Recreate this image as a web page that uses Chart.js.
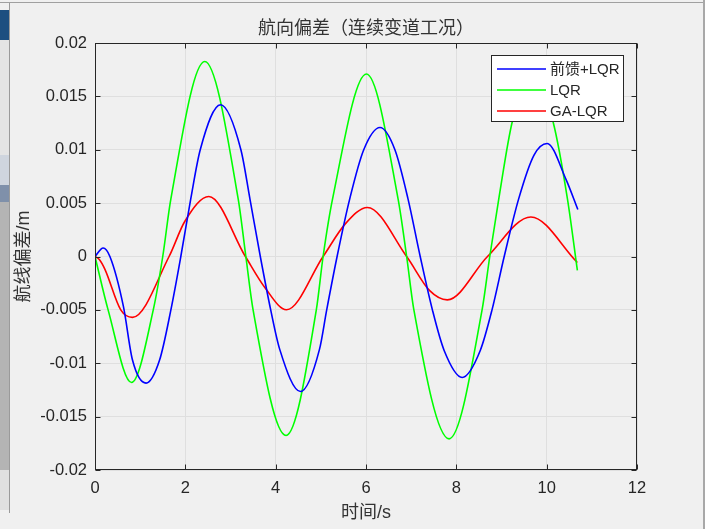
<!DOCTYPE html>
<html>
<head>
<meta charset="utf-8">
<script src="https://cdn.jsdelivr.net/npm/chart.js@4.4.1/dist/chart.umd.min.js"></script>
<style>
  html, body { margin:0; padding:0; background:#f0f0f0; width:705px; height:529px; overflow:hidden; }
  #wrap { position:absolute; left:0; top:0; width:705px; height:529px; }
  canvas { position:absolute; left:0; top:0; }
  .deco { position:absolute; }
</style>
</head>
<body>
<div id="wrap">
  <canvas id="c" width="705" height="529"></canvas>
  <div class="deco" style="left:0;top:2px;width:705px;height:1px;background:#a0a0a0"></div>
  <div class="deco" style="left:703px;top:0;width:2px;height:529px;background:#a8a8a8"></div>
  <div class="deco" style="left:0;top:10px;width:9px;height:30px;background:#1d4f80"></div>
  <div class="deco" style="left:0;top:40px;width:9px;height:115px;background:#e4e4e4"></div>
  <div class="deco" style="left:0;top:155px;width:9px;height:30px;background:#cfd5de"></div>
  <div class="deco" style="left:0;top:185px;width:9px;height:17px;background:#7f90aa"></div>
  <div class="deco" style="left:0;top:202px;width:9px;height:268px;background:#b4b4b4"></div>
  <div class="deco" style="left:0;top:470px;width:9px;height:40px;background:#e0e0e0"></div>
  <div class="deco" style="left:9px;top:3px;width:1px;height:510px;background:#9a9a9a"></div>
</div>
<script>
// ---- data ----
const seriesNames = ['前馈+LQR', 'LQR', 'GA-LQR'];

const timeBlue = [0, 0.18, 0.33, 0.63, 0.83, 1.13, 1.43, 1.68, 1.90, 2.12, 2.33, 2.78, 3.23, 3.43, 3.66, 3.89, 4.09, 4.55, 4.97, 5.13, 5.36, 5.64, 5.95, 6.31, 6.64, 6.93, 7.20, 7.47, 7.73, 8.13, 8.53, 8.79, 9.06, 9.38, 9.72, 10.01, 10.43, 10.69];
const valBlue  = [0, 0.0008, 0, -0.0047, -0.0097, -0.01186, -0.0097, -0.005, 0, 0.0054, 0.0100, 0.01421, 0.0100, 0.0054, 0, -0.005, -0.0087, -0.01265, -0.0087, -0.005, 0, 0.0054, 0.0100, 0.01208, 0.0100, 0.0054, 0, -0.005, -0.0088, -0.01133, -0.0088, -0.005, 0, 0.0054, 0.0095, 0.01059, 0.0072, 0.0044];

const timeGreen = [0, 0.29, 0.81, 1.29, 1.50, 1.68, 2.43, 3.17, 3.34, 3.50, 4.23, 4.90, 5.05, 5.26, 6.01, 6.71, 6.90, 7.06, 7.84, 8.57, 8.74, 8.94, 9.24, 9.70, 10.14, 10.46, 10.68];
const valGreen  = [0, -0.005, -0.0118, -0.005, 0, 0.0054, 0.01827, 0.0054, 0, -0.005, -0.01677, -0.005, 0, 0.0054, 0.01709, 0.0054, 0, -0.005, -0.01708, -0.005, 0, 0.0054, 0.01265, 0.0172, 0.01265, 0.0054, -0.0013];

const timeRed = [0, 0.10, 0.22, 0.57, 0.83, 1.64, 1.99, 2.52, 3.33, 3.76, 4.24, 5.05, 5.55, 6.03, 6.90, 7.41, 7.80, 8.69, 9.65, 10.68];
const valRed  = [0, -0.0003, -0.0012, -0.005, -0.0057, 0, 0.0033, 0.00562, 0, -0.0029, -0.00499, 0, 0.0031, 0.00459, 0, -0.0032, -0.00406, 0, 0.0037, -0.00056];

const xTicks = [0, 2, 4, 6, 8, 10, 12];
const xTickLabels = ['0', '2', '4', '6', '8', '10', '12'];
const yTicks = [-0.02, -0.015, -0.01, -0.005, 0, 0.005, 0.01, 0.015, 0.02];
const yTickLabels = ['-0.02', '-0.015', '-0.01', '-0.005', '0', '0.005', '0.01', '0.015', '0.02'];

const titleText = '航向偏差（连续变道工况）';
const xTitleText = '时间/s';
const yTitleText = '航线偏差/m';
// ---------------------------------------------

const FONT = '"Liberation Sans", Arial, "Noto Sans CJK SC", sans-serif';
const INK = '#262626';
const colors = ['#0000ff', '#00ff00', '#ff0000'];

function pts(t, v) { return t.map((x, i) => ({ x: x, y: v[i] })); }

const datasets = [
  { label: seriesNames[0], data: pts(timeBlue, valBlue) },
  { label: seriesNames[1], data: pts(timeGreen, valGreen) },
  { label: seriesNames[2], data: pts(timeRed, valRed) }
].map((d, i) => Object.assign(d, {
  borderColor: colors[i], backgroundColor: colors[i], borderWidth: 1.6,
  pointRadius: 0, fill: false, cubicInterpolationMode: 'monotone'
}));

const matlabPlugin = {
  id: 'matlabDecor',
  afterDraw(chart) {
    const ctx = chart.ctx;
    const a = chart.chartArea;
    const xs = chart.scales.x, ys = chart.scales.y;
    ctx.save();
    ctx.strokeStyle = INK; ctx.lineWidth = 1;
    const L = Math.round(a.left) + 0.5, R = Math.round(a.right) - 0.5;
    const T = Math.round(a.top) + 0.5, B = Math.round(a.bottom) - 0.5;
    ctx.strokeRect(L, T, R - L, B - T);
    const tl = 5;
    ctx.beginPath();
    xTicks.forEach(v => {
      const px = Math.round(xs.getPixelForValue(v)) + 0.5;
      ctx.moveTo(px, B); ctx.lineTo(px, B - tl);
      ctx.moveTo(px, T); ctx.lineTo(px, T + tl);
    });
    yTicks.forEach(v => {
      const py = Math.round(ys.getPixelForValue(v)) + 0.5;
      ctx.moveTo(L, py); ctx.lineTo(L + tl, py);
      ctx.moveTo(R, py); ctx.lineTo(R - tl, py);
    });
    ctx.stroke();
    const cx = (a.left + a.right) / 2, cy = (a.top + a.bottom) / 2;
    ctx.fillStyle = '#333';
    ctx.textAlign = 'center'; ctx.textBaseline = 'middle';
    ctx.font = '18px ' + FONT;
    ctx.fillText(titleText, cx, 29);
    ctx.fillText(xTitleText, cx, 513);
    ctx.save();
    ctx.translate(24, cy);
    ctx.rotate(-Math.PI / 2);
    ctx.fillText(yTitleText, 0, 0);
    ctx.restore();
    const lx = 491.5, ly = 55.5, lw = 132, lh = 66;
    ctx.fillStyle = '#ffffff';
    ctx.fillRect(lx, ly, lw, lh);
    ctx.strokeStyle = INK; ctx.lineWidth = 1;
    ctx.strokeRect(lx, ly, lw, lh);
    ctx.font = '15px ' + FONT;
    ctx.textAlign = 'left'; ctx.textBaseline = 'middle';
    chart.data.datasets.forEach((d, i) => {
      const y = 69 + i * 21;
      ctx.strokeStyle = d.borderColor; ctx.lineWidth = 1.6;
      ctx.beginPath(); ctx.moveTo(497, y); ctx.lineTo(546, y); ctx.stroke();
      ctx.fillStyle = INK;
      ctx.fillText(d.label, 550, y + 0.5);
    });
    ctx.restore();
  }
};

new Chart(document.getElementById('c'), {
  type: 'line',
  data: { datasets: datasets },
  plugins: [matlabPlugin],
  options: {
    responsive: false,
    animation: false,
    devicePixelRatio: 1,
    layout: { padding: { left: 0, right: 68, top: 43, bottom: 0 } },
    plugins: { legend: { display: false }, title: { display: false }, tooltip: { enabled: false } },
    scales: {
      x: {
        type: 'linear', position: 'bottom', min: 0, max: 12,
        afterBuildTicks: s => { s.ticks = xTicks.map(v => ({ value: v })); },
        afterFit: s => { s.height = 59; },
        ticks: {
          callback: (v, i) => xTickLabels[i],
          font: { family: FONT, size: 16.5 }, color: INK, padding: 9, maxRotation: 0, autoSkip: false
        },
        grid: { color: '#dfdfdf', lineWidth: 1, drawTicks: false },
        border: { display: false }
      },
      y: {
        type: 'linear', position: 'left', min: -0.02, max: 0.02,
        afterBuildTicks: s => { s.ticks = yTicks.map(v => ({ value: v })); },
        afterFit: s => { s.width = 95; },
        ticks: {
          callback: (v, i) => yTickLabels[i],
          font: { family: FONT, size: 16.5 }, color: INK, padding: 8, autoSkip: false
        },
        grid: { color: '#dfdfdf', lineWidth: 1, drawTicks: false },
        border: { display: false }
      }
    }
  }
});
</script>
</body>
</html>
